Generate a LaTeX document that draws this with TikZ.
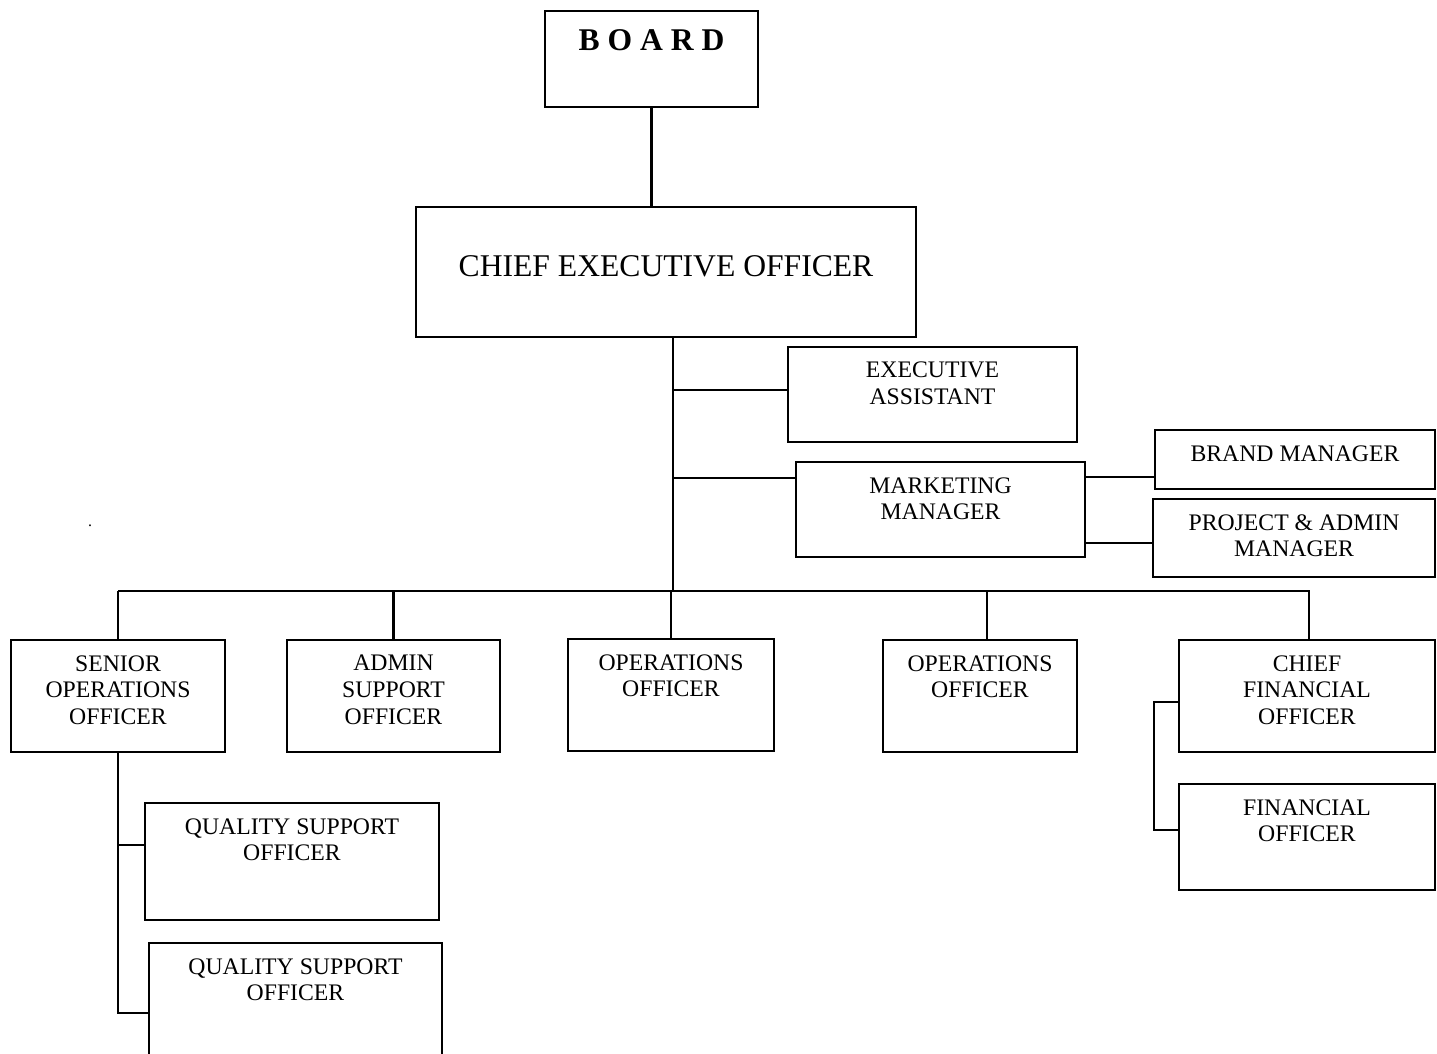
\documentclass[tikz,border=0pt]{standalone}
\usepackage{fontspec}
\setmainfont{Liberation Serif}
\usepackage{tikz}

\tikzset{
  post/.style 2 args={draw, line width=1.2pt, minimum width=#1*0.02cm, minimum height=#2*0.02cm, inner sep=0pt},
  lbl/.style={font=\fontsize{13.5}{15.3}\selectfont, align=center, inner sep=0pt, anchor=north, yshift=-0.32cm},
  link/.style={line width=1.2pt}
}

\begin{document}
\begin{tikzpicture}[x=0.02cm, y=-0.02cm]
\useasboundingbox (0,0) rectangle (1437,1054);

% Top of the chart
\node [post={213}{96}, label={[lbl, font=\bfseries\fontsize{18}{20}\selectfont, yshift=-0.06cm]north:B O A R D}] (board) at (651.5, 59) {};
\node [post={500}{130}, label={[lbl, font=\fontsize{18}{20}\selectfont, yshift=-0.66cm]north:CHIEF EXECUTIVE OFFICER}] (ceo) at (666, 272) {};

% Staff of the CEO
\node [post={289}{95}, label={[lbl]north:EXECUTIVE\\ASSISTANT}] (exec) at (932.5, 394.5) {};
\node [post={289}{95}, label={[lbl]north:MARKETING\\MANAGER}] (mkt) at (940.5, 509.5) {};
\node [post={280}{59}, label={[lbl]north:BRAND MANAGER}] (brand) at (1295, 459.5) {};
\node [post={282}{78}, label={[lbl]north:PROJECT \& ADMIN\\MANAGER}] (proj) at (1294, 538) {};

% Officers
\node [post={214}{112}, label={[lbl]north:SENIOR\\OPERATIONS\\OFFICER}] (senior) at (118, 696) {};
\node [post={213}{112}, label={[lbl]north:ADMIN\\SUPPORT\\OFFICER}] (admin) at (393.5, 696) {};
\node [post={206}{112}, label={[lbl]north:OPERATIONS\\OFFICER}] (ops1) at (671, 695) {};
\node [post={194}{112}, label={[lbl]north:OPERATIONS\\OFFICER}] (ops2) at (980, 696) {};
\node [post={256}{112}, label={[lbl]north:CHIEF\\FINANCIAL\\OFFICER}] (cfo) at (1307, 696) {};
\node [post={256}{106}, label={[lbl]north:FINANCIAL\\OFFICER}] (fin) at (1307, 837) {};
\node [post={294}{117}, label={[lbl]north:QUALITY SUPPORT\\OFFICER}] (qso1) at (292, 861.5) {};
\node [post={293}{127}, label={[lbl]north:QUALITY SUPPORT\\OFFICER}] (qso2) at (295.5, 1006.5) {};

\node [inner sep=0pt, font=\small] (dot) at (90, 526) {.};

% Lines
\coordinate (bus) at (673, 591);
\coordinate (exin) at ([yshift=0.09cm]exec.west);
\coordinate (mktin) at ([yshift=0.63cm]mkt.west);
\coordinate (mktbr) at ([yshift=0.65cm]mkt.east);
\coordinate (mktpr) at ([yshift=-0.67cm]mkt.east);

\draw [link] (board.south) -- (board.south |- ceo.north);
\draw [link] (ceo.south -| bus) -- (bus);
\draw [link] (exin) -- (exin -| bus);
\draw [link] (mktin) -- (mktin -| bus);
\draw [link] (mktbr) -- (mktbr -| brand.west);
\draw [link] (mktpr) -- (mktpr -| proj.west);

\draw [link] (senior.north |- bus) -- ([xshift=0.04cm]cfo.north |- bus) -- ([xshift=0.04cm]cfo.north);
\foreach \n in {senior, admin, ops1}
  \draw [link] (\n.north) -- (\n.north |- bus);
\draw [link] ([xshift=0.14cm]ops2.north) -- ([xshift=0.14cm]ops2.north |- bus);

\draw [link] (senior.south) |- ([yshift=-0.13cm]qso2.west);
\draw [link] ([yshift=0.33cm]qso1.west) -| (senior.south);
\draw [link] ([yshift=-0.12cm]cfo.west) -- ++(-0.48cm,0) |- ([yshift=0.14cm]fin.west);
\end{tikzpicture}
\end{document}
